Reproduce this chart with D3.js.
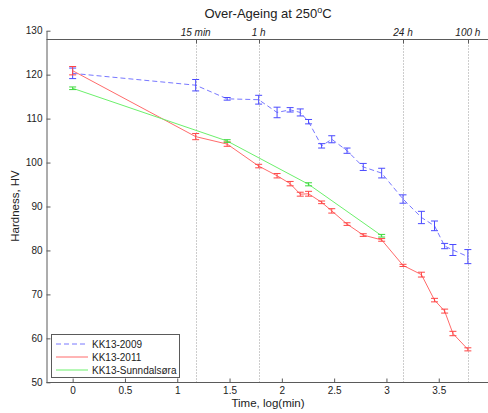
<!DOCTYPE html>
<html>
<head>
<meta charset="utf-8">
<script src="https://cdn.jsdelivr.net/npm/d3@7"></script>
<style>
  html, body { margin: 0; padding: 0; background: #fff; }
  svg { display: block; font-family: "Liberation Sans", Arial, Helvetica, sans-serif; }
</style>
</head>
<body>
<svg id="chart" width="488" height="413"></svg>
<script>
// Ageing time in minutes (plotted as log10 of minutes)
const timesMin = [1, 15, 30, 60, 90, 120, 150, 180, 240, 300, 420, 600, 900, 1440, 2160, 2880, 3600, 4320, 6000];
const hv2009 = [120.3, 117.6, 114.5, 114.3, 111.4, 112.0, 111.4, 109.3, 103.8, 105.3, 102.7, 99.0, 97.6, 91.7, 87.5, 85.6, 81.0, 80.1, 78.6];
const err2009 = [1.2, 1.3, 0.3, 1.0, 1.2, 0.5, 0.8, 0.5, 0.5, 0.8, 0.6, 0.8, 1.1, 0.95, 1.4, 1.1, 0.6, 1.25, 1.6];
const hv2011 = [120.9, 105.9, 104.2, 99.2, 97.0, 95.2, 92.8, 92.9, 90.95, 89.0, 86.0, 83.5, 82.4, 76.6, 74.5, 68.7, 66.2, 61.1, 57.5];
const err2011 = [0.95, 0.7, 0.5, 0.4, 0.5, 0.5, 0.45, 0.55, 0.3, 0.5, 0.3, 0.3, 0.3, 0.25, 0.55, 0.4, 0.45, 0.5, 0.35];
const timesSund = [1, 30, 180, 900];
const hvSund = [116.9, 104.9, 95.05, 83.35];
const errSund = [0.3, 0.3, 0.35, 0.3];

const xTicks = [0, 0.5, 1, 1.5, 2, 2.5, 3, 3.5];
const yTicks = [50, 60, 70, 80, 90, 100, 110, 120, 130];
// Reference durations shown on the top axis
const markMin = [15, 60, 1440, 6000];
const markLabels = ["15 min", "1 h", "24 h", "100 h"];

const seriesNames = ["KK13-2009", "KK13-2011", "KK13-Sunndalsøra"];

const svg = d3.select("#chart");
const left = 46.5, bottom = 382.5, topY = 39.5;

const x = d3.scaleLinear().domain([-0.25, 4]).range([left, left + 4.25 * 104.6]);
const y = d3.scaleLinear().domain([50, 130]).range([382.3, 30.7]);

const axisColor = "#5a5a5a";
const textColor = "#222";

// Top reference axis with dotted guide lines
const marks = markMin.map((m, i) => ({ v: Math.log10(m), label: markLabels[i] }));
svg.append("g").selectAll("line").data(marks).join("line")
  .attr("x1", d => Math.round(x(d.v)) + 0.5).attr("x2", d => Math.round(x(d.v)) + 0.5)
  .attr("y1", topY).attr("y2", bottom)
  .attr("stroke", "#9a9a9a").attr("stroke-width", 1).attr("stroke-dasharray", "1,2");
svg.append("line").attr("x1", left).attr("x2", 488).attr("y1", topY).attr("y2", topY)
  .attr("stroke", axisColor).attr("stroke-width", 1);
svg.append("g").selectAll("line").data(marks).join("line")
  .attr("x1", d => Math.round(x(d.v)) + 0.5).attr("x2", d => Math.round(x(d.v)) + 0.5)
  .attr("y1", topY).attr("y2", topY + 4)
  .attr("stroke", axisColor);
svg.append("g").selectAll("text").data(marks).join("text")
  .attr("x", d => x(d.v)).attr("y", topY - 4)
  .attr("text-anchor", "middle").attr("font-size", 10).attr("font-style", "italic")
  .attr("fill", textColor).text(d => d.label);

// Main axes
const yAxis = d3.axisLeft(y).tickValues(yTicks).tickSizeInner(-4).tickSizeOuter(0).tickPadding(4);
const gy = svg.append("g").attr("transform", `translate(${left},0)`).call(yAxis);
const xAxis = d3.axisBottom(x).tickValues(xTicks).tickFormat(d3.format("")).tickSizeInner(-4).tickSizeOuter(0).tickPadding(4);
const gx = svg.append("g").attr("transform", `translate(0,${bottom})`).call(xAxis);
[gx, gy].forEach(g => {
  g.select(".domain").attr("stroke", axisColor);
  g.selectAll(".tick line").attr("stroke", axisColor);
  g.selectAll(".tick text").attr("fill", textColor).attr("font-size", 10)
    .attr("font-family", "Liberation Sans, Arial, sans-serif");
});
gx.select(".domain").attr("d", `M${left},0H488`);

// Titles
const title = svg.append("text").attr("x", 268).attr("y", 18).attr("text-anchor", "middle")
  .attr("font-size", 13).attr("fill", textColor);
title.append("tspan").text("Over-Ageing at 250");
title.append("tspan").attr("font-size", 9).attr("dy", -5).text("o");
title.append("tspan").attr("dy", 5).text("C");
svg.append("text").attr("x", 268).attr("y", 407).attr("text-anchor", "middle")
  .attr("font-size", 11.5).attr("fill", textColor).text("Time, log(min)");
svg.append("text").attr("transform", "translate(19,206) rotate(-90)").attr("text-anchor", "middle")
  .attr("font-size", 11.5).attr("fill", textColor).text("Hardness, HV");

// Series
function build(times, vals, errs) {
  return times.map((t, i) => ({ t: Math.log10(t), v: vals[i], e: errs[i] }));
}
const series = [
  { name: seriesNames[0], data: build(timesMin, hv2009, err2009), line: "#7878ff", bar: "#4a4aff", dash: "5,3" },
  { name: seriesNames[1], data: build(timesMin, hv2011, err2011), line: "#ff6b6b", bar: "#ff4545", dash: null },
  { name: seriesNames[2], data: build(timesSund, hvSund, errSund), line: "#6cf06c", bar: "#3ed83e", dash: null }
];

const lineGen = d3.line().x(d => x(d.t)).y(d => y(d.v));
const cap = 3.5;
series.forEach(s => {
  svg.append("path").datum(s.data).attr("d", lineGen)
    .attr("fill", "none").attr("stroke", s.line).attr("stroke-width", 1)
    .attr("stroke-dasharray", s.dash);
  const g = svg.append("g").attr("stroke", s.bar).attr("stroke-width", 1).attr("fill", "none");
  g.selectAll("path").data(s.data).join("path")
    .attr("d", d => {
      const cx = x(d.t), y1 = y(d.v + d.e), y2 = y(d.v - d.e);
      return `M${cx},${y1}V${y2}M${cx - cap},${y1}H${cx + cap}M${cx - cap},${y2}H${cx + cap}`;
    });
});

// Legend
const lg = svg.append("g");
lg.append("rect").attr("x", 51.5).attr("y", 334.5).attr("width", 128).attr("height", 43)
  .attr("fill", "#fff").attr("stroke", axisColor);
series.forEach((s, i) => {
  const ly = 344 + i * 13;
  lg.append("line").attr("x1", 56).attr("x2", 88).attr("y1", ly).attr("y2", ly)
    .attr("stroke", s.line).attr("stroke-dasharray", s.dash);
  lg.append("text").attr("x", 92).attr("y", ly + 3.5).attr("font-size", 10)
    .attr("fill", textColor).text(s.name);
});
</script>
</body>
</html>
